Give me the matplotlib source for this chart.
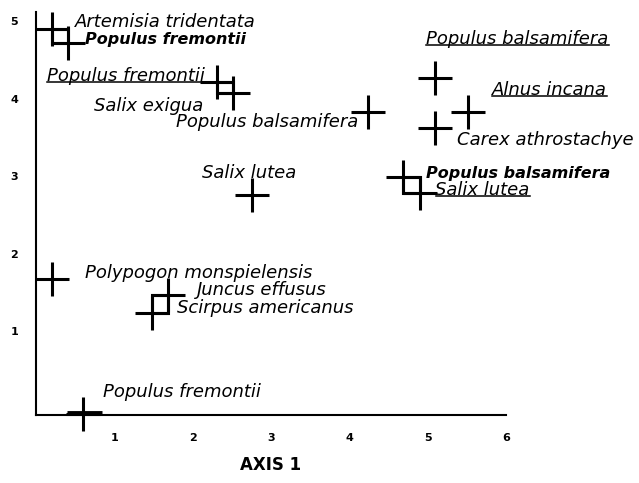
import matplotlib
matplotlib.use("Agg")
import matplotlib.pyplot as plt
from matplotlib.lines import Line2D
from matplotlib.patches import Rectangle

# single stands (plain crosses)
single_x = [5.10, 4.24, 5.52, 5.10, 2.76, 0.20, 0.60]
single_y = [4.27, 3.83, 3.83, 3.62, 2.76, 1.67, -0.07]

# paired stands: two crosses joined by a box
pair_x1 = [0.20, 2.31, 4.69, 1.48]
pair_y1 = [4.90, 4.22, 2.99, 1.24]
pair_x2 = [0.41, 2.52, 4.90, 1.69]
pair_y2 = [4.72, 4.07, 2.78, 1.47]

# short heavy bar on the axis near the lowest stand
bar_x = [0.40, 0.84]
bar_y = [-0.05, -0.05]

labels = [
    "Artemisia tridentata", "Populus fremontii", "Populus fremontii",
    "Salix exigua", "Populus balsamifera", "Populus balsamifera",
    "Alnus incana", "Carex athrostachye", "Populus balsamifera",
    "Salix lutea", "Salix lutea", "Polypogon monspielensis",
    "Juncus effusus", "Scirpus americanus", "Populus fremontii",
]
label_kind = [
    "italic", "bold", "under", "italic", "italic", "under", "under",
    "italic", "bold", "under", "italic", "italic", "italic", "italic", "italic",
]

# label anchors (data units) and alignment
label_pos = [
    (0.50, 4.99, "left"), (0.63, 4.77, "left"), (0.14, 4.29, "left"),
    (2.13, 3.91, "right"), (4.11, 3.70, "right"), (7.31, 4.77, "right"),
    (7.29, 4.11, "right"), (5.38, 3.47, "left"), (4.98, 3.04, "left"),
    (5.10, 2.82, "left"), (2.12, 3.04, "left"), (0.63, 1.75, "left"),
    (2.06, 1.53, "left"), (1.80, 1.30, "left"), (0.86, 0.22, "left"),
]

x_ticks = [1, 2, 3, 4, 5, 6]
y_ticks = [1, 2, 3, 4, 5]

fig = plt.figure(figsize=(6.39, 4.83), dpi=100)
ax = fig.add_axes([36 / 639, 68 / 483, 470 / 639, 403 / 483])
ax.set_xlim(0, 6.0)
ax.set_ylim(-0.08, 5.12)

for s in ["top", "right"]:
    ax.spines[s].set_visible(False)
for s in ["left", "bottom"]:
    ax.spines[s].set_linewidth(1.5)

cross = dict(marker="+", markersize=24.5, markeredgewidth=2.2, color="black",
             linestyle="none", clip_on=False)
ax.plot(single_x, single_y, **cross)
ax.plot(pair_x1, pair_y1, **cross)
ax.plot(pair_x2, pair_y2, **cross)
for xa, ya, xb, yb in zip(pair_x1, pair_y1, pair_x2, pair_y2):
    ax.add_patch(Rectangle((min(xa, xb), min(ya, yb)), abs(xb - xa), abs(yb - ya),
                           fill=False, lw=2.2, ec="black", clip_on=False))
ax.plot(bar_x, bar_y, color="black", lw=3.5, solid_capstyle="butt", clip_on=False)

texts = []
for txt, kind, (lx, ly, ha) in zip(labels, label_kind, label_pos):
    if kind == "bold":
        t = ax.text(lx, ly, txt, ha=ha, va="center", fontsize=11.5,
                    fontweight="bold", fontstyle="italic")
    else:
        t = ax.text(lx, ly, txt, ha=ha, va="center", fontsize=13, fontstyle="italic")
    texts.append((t, kind))

ax.set_xticks(x_ticks)
ax.set_yticks(y_ticks)
ax.set_xticklabels([str(v) for v in x_ticks], fontweight="bold", fontsize=8)
ax.set_yticklabels([str(v) for v in y_ticks], fontweight="bold", fontsize=8)
ax.tick_params(length=0)
ax.tick_params(axis="x", pad=13)
ax.tick_params(axis="y", pad=13)
ax.set_xlabel("AXIS 1", fontweight="bold", fontsize=12, labelpad=9)

# underline the underlined labels
fig.canvas.draw()
inv = fig.transFigure.inverted()
for t, kind in texts:
    if kind != "under":
        continue
    bb = t.get_window_extent()
    y = bb.y0 + 3
    (x0, y0), (x1, y1) = inv.transform([(bb.x0, y), (bb.x1, y)])
    fig.add_artist(Line2D([x0, x1], [y0, y1], lw=1.1, color="black"))

fig.savefig("out.png", dpi=100)
